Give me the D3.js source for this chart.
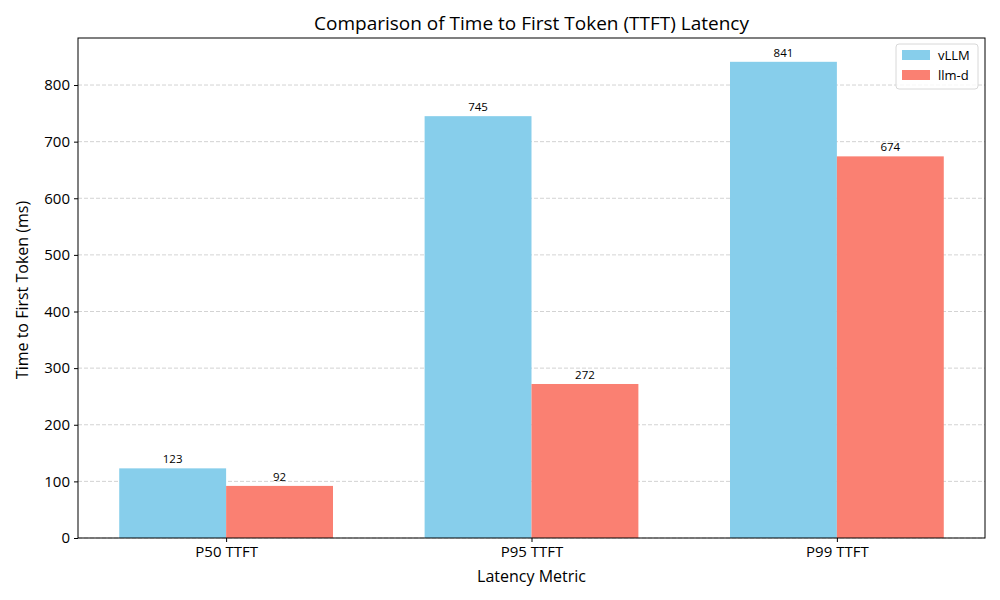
<!DOCTYPE html>
<html><head><meta charset="utf-8">
<script src="https://cdn.jsdelivr.net/npm/d3@7"></script>
<style>body{margin:0;background:#fff}text{font-family:"Open Sans",sans-serif;fill:#000}</style>
</head><body>
<svg id="c" width="1000" height="600"></svg>
<script>
const categories = ["P50 TTFT", "P95 TTFT", "P99 TTFT"];
const seriesNames = ["vLLM", "llm-d"];
const vllm = [123, 745, 841];
const llmd = [92, 272, 674];
const yTicks = [0, 100, 200, 300, 400, 500, 600, 700, 800];
const colors = ["#87CEEB", "#FA8072"];

const svg = d3.select("#c");
const L = 78, R = 985, T = 38, B = 538;
const w = 0.35;
const x = d3.scaleLinear().domain([-0.485, 2.485]).range([L, R]);
const ymax = d3.max(vllm.concat(llmd)) * 1.05;
const y = d3.scaleLinear().domain([0, ymax]).range([B, T]);
const FF = "'Open Sans', sans-serif";

// grid
svg.append("g").selectAll("line").data(yTicks).join("line")
  .attr("x1", L).attr("x2", R).attr("y1", d => y(d)).attr("y2", d => y(d))
  .attr("stroke", "#c8c8c8").attr("stroke-dasharray", "4,2").attr("stroke-width", 0.8);

const series = [vllm, llmd];
series.forEach((vals, si) => {
  const off = si === 0 ? -w / 2 : w / 2;
  const g = svg.append("g");
  g.selectAll("rect").data(vals).join("rect")
    .attr("x", (d, i) => x(i + off - w / 2))
    .attr("width", (d, i) => x(i + off + w / 2) - x(i + off - w / 2))
    .attr("y", d => y(d)).attr("height", d => B - y(d))
    .attr("fill", colors[si]);
  g.selectAll("text").data(vals).join("text")
    .attr("x", (d, i) => x(i + off)).attr("y", d => y(d) - 5)
    .attr("text-anchor", "middle").attr("font-size", 11.5).text(d => d);
});

// axes
const ya = svg.append("g").attr("transform", `translate(${L},0)`)
  .call(d3.axisLeft(y).tickValues(yTicks).tickSize(4).tickPadding(4).tickFormat(d3.format("d")));
ya.select(".domain").remove();
ya.selectAll("text").attr("font-size", 15).style("font-family", FF);
const xa = svg.append("g").attr("transform", `translate(0,${B})`)
  .call(d3.axisBottom(x).tickValues([0, 1, 2]).tickSize(4).tickPadding(4).tickFormat(i => categories[i]));
xa.select(".domain").remove();
xa.selectAll("text").attr("font-size", 15).style("font-family", FF);

svg.append("rect").attr("x", L).attr("y", T).attr("width", R - L).attr("height", B - T)
  .attr("fill", "none").attr("stroke", "#000").attr("stroke-width", 1);

svg.append("text").attr("x", (L + R) / 2).attr("y", 30).attr("text-anchor", "middle")
  .attr("font-size", 19).text("Comparison of Time to First Token (TTFT) Latency");
svg.append("text").attr("x", (L + R) / 2).attr("y", 582).attr("text-anchor", "middle")
  .attr("font-size", 16).text("Latency Metric");
svg.append("text").attr("transform", `translate(28,${(T + B) / 2 + 2}) rotate(-90)`)
  .attr("text-anchor", "middle").attr("font-size", 16).text("Time to First Token (ms)");

// legend
const lg = svg.append("g").attr("transform", "translate(896,44)");
lg.append("rect").attr("width", 82).attr("height", 45).attr("rx", 3)
  .attr("fill", "#fff").attr("fill-opacity", 0.8).attr("stroke", "#d8d8d8");
seriesNames.forEach((n, i) => {
  lg.append("rect").attr("x", 6).attr("y", 6 + i * 20).attr("width", 28).attr("height", 10).attr("fill", colors[i]);
  lg.append("text").attr("x", 42).attr("y", 16 + i * 20).attr("font-size", 13).text(n);
});
</script>
</body></html>
